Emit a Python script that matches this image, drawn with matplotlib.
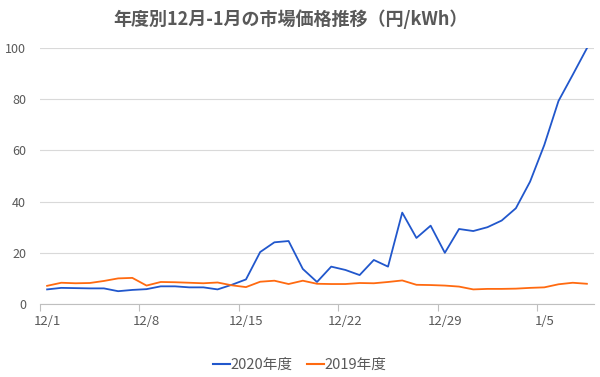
import matplotlib
matplotlib.use("Agg")
import matplotlib.pyplot as plt
from matplotlib.lines import Line2D

plt.rcParams["font.family"] = ["Noto Sans CJK JP", "DejaVu Sans"]

# ---------------------------------------------------------------------------
# Data (daily market price, yen/kWh, 12/1 .. 1/8)
# ---------------------------------------------------------------------------
dates = ([f"12/{d}" for d in range(1, 32)] + [f"1/{d}" for d in range(1, 9)])

price_2020 = [5.7, 6.3, 6.2, 6.1, 6.1, 5.0, 5.5, 5.8, 6.9, 6.9,
              6.5, 6.5, 5.7, 7.5, 9.6, 20.3, 24.1, 24.6, 13.7, 8.6,
              14.6, 13.3, 11.3, 17.2, 14.6, 35.7, 25.8, 30.6, 20.0, 29.3,
              28.5, 30.0, 32.6, 37.4, 47.8, 62.1, 79.3, 89.5, 99.9]

price_2019 = [7.1, 8.3, 8.1, 8.2, 9.0, 10.0, 10.2, 7.2, 8.6, 8.5,
              8.3, 8.1, 8.4, 7.3, 6.6, 8.7, 9.1, 7.8, 9.1, 7.9,
              7.8, 7.8, 8.2, 8.1, 8.6, 9.2, 7.5, 7.4, 7.2, 6.8,
              5.7, 5.9, 5.9, 6.0, 6.3, 6.5, 7.7, 8.3, 7.9]

label_every = 7
series_names = ["2020年度", "2019年度"]

# ---------------------------------------------------------------------------
# Plot
# ---------------------------------------------------------------------------
BLUE = "#2157CC"
ORANGE = "#FF6A10"
GREY = "#595959"

fig = plt.figure(figsize=(6, 3.77), dpi=100)
ax = fig.add_axes([40 / 600, 73 / 377, 554 / 600, 256 / 377])

x = list(range(len(dates)))
ax.plot(x, price_2020, color=BLUE, linewidth=1.3, solid_joinstyle="round")
ax.plot(x, price_2019, color=ORANGE, linewidth=1.3, solid_joinstyle="round")

ax.set_xlim(-0.5, len(dates) - 0.5)
ax.set_ylim(0, 100)
ax.set_yticks(range(0, 101, 20))
ax.tick_params(axis="y", length=0, labelsize=9, labelcolor=GREY, pad=10)

# labels centred on the points, tick marks on the category boundaries
ax.set_xticks(x[::label_every])
ax.set_xticklabels(dates[::label_every])
ax.tick_params(axis="x", which="major", length=0, labelsize=9.5,
               labelcolor=GREY, pad=8)
ax.set_xticks([i - 0.5 for i in x[::label_every]], minor=True)
ax.tick_params(axis="x", which="minor", length=5, color="#BFBFBF", width=0.8)

ax.grid(axis="y", color="#D9D9D9", linewidth=0.8)
ax.set_axisbelow(True)
for side in ["top", "right", "left"]:
    ax.spines[side].set_visible(False)
ax.spines["bottom"].set_color("#BFBFBF")
ax.spines["bottom"].set_linewidth(0.8)

fig.text(290 / 600, 1 - 19 / 377, "年度別12月-1月の市場価格推移（円/kWh）",
         ha="center", va="center", fontsize=13, color=GREY, weight="bold")

handles = [Line2D([], [], color=BLUE, linewidth=1.5),
           Line2D([], [], color=ORANGE, linewidth=1.5)]
fig.legend(handles, series_names, loc="center", bbox_to_anchor=(0.5, 1 - 365 / 377),
           ncol=2, frameon=False, fontsize=10.5, handlelength=1.15,
           handletextpad=0.05, columnspacing=1.0, labelcolor=GREY)

fig.savefig("out.png", dpi=100)
